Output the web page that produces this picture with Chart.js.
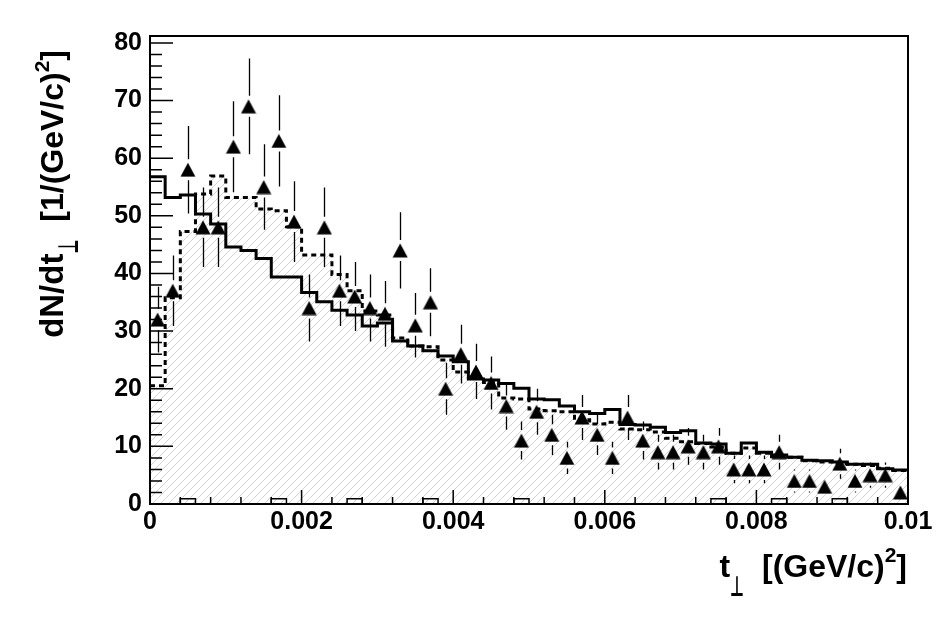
<!DOCTYPE html>
<html>
<head>
<meta charset="utf-8">
<script src="https://cdn.jsdelivr.net/npm/chart.js@4.4.0/dist/chart.umd.min.js"></script>
<style>
  html, body { margin: 0; padding: 0; background: #fff; }
  #wrap { width: 950px; height: 622px; }
</style>
</head>
<body>
<div id="wrap"><canvas id="tperp" width="950" height="622"></canvas></div>
<script>
// bin edges in t_perp [(GeV/c)^2], 50 bins
const tEdges = [
  0, 0.0002, 0.0004, 0.0006, 0.0008, 0.001, 0.0012, 0.0014, 0.0016, 0.0018,
  0.002, 0.0022, 0.0024, 0.0026, 0.0028, 0.003, 0.0032, 0.0034, 0.0036, 0.0038,
  0.004, 0.0042, 0.0044, 0.0046, 0.0048, 0.005, 0.0052, 0.0054, 0.0056, 0.0058,
  0.006, 0.0062, 0.0064, 0.0066, 0.0068, 0.007, 0.0072, 0.0074, 0.0076, 0.0078,
  0.008, 0.0082, 0.0084, 0.0086, 0.0088, 0.009, 0.0092, 0.0094, 0.0096, 0.0098,
  0.01
];

// measured points (triangles) and their errors
const dataCounts = [
  32, 37, 58, 48, 48, 62, 69, 55, 63, 49,
  34, 48, 37, 36, 34, 33, 44, 31, 35, 20,
  26, 23, 21, 17, 11, 16, 12, 8, 15, 12,
  8, 15, 11, 9, 9, 10, 9, 10, 6, 6,
  6, 9, 4, 4, 3, 7, 4, 5, 5, 2
];
const dataErrors = [
  5.7, 6.1, 7.6, 6.9, 6.9, 7.9, 8.3, 7.4, 7.9, 7.0,
  5.8, 6.9, 6.1, 6.0, 5.8, 5.7, 6.6, 5.6, 5.9, 4.5,
  5.1, 4.8, 4.6, 4.1, 3.3, 4.0, 3.5, 2.8, 3.9, 3.5,
  2.8, 3.9, 3.3, 3.0, 3.0, 3.2, 3.0, 3.2, 2.4, 2.4,
  2.4, 3.0, 2.0, 2.0, 1.7, 2.6, 2.0, 2.2, 2.2, 1.4
];

// solid histogram
const solidHist = [
  56.8, 53.2, 53.6, 50.3, 48.6, 44.6, 44.0, 42.6, 39.4, 39.4,
  36.7, 35.1, 33.6, 32.8, 30.9, 31.4, 28.3, 27.4, 26.6, 25.7,
  24.7, 21.7, 21.5, 20.9, 20.1, 18.2, 18.1, 17.0, 16.0, 15.7,
  16.4, 13.8, 13.7, 13.3, 12.4, 12.7, 10.6, 10.4, 8.8, 10.6,
  9.0, 8.5, 8.1, 7.6, 7.5, 7.3, 6.9, 6.9, 6.1, 5.9
];

// dashed histogram (hatched)
const dashedHist = [
  20.5, 35.8, 47.3, 53.8, 56.9, 53.2, 53.2, 51.2, 50.9, 48.1,
  43.2, 43.2, 39.8, 37.0, 33.5, 32.8, 28.8, 27.4, 27.3, 25.0,
  22.9, 22.0, 21.1, 18.4, 18.2, 16.5, 16.2, 16.0, 14.6, 13.9,
  14.2, 13.0, 12.9, 12.5, 11.4, 10.8, 10.5, 9.9, 8.8, 9.7,
  8.8, 8.2, 8.1, 7.5, 7.3, 7.0, 6.9, 6.7, 6.2, 5.8
];

// small box histogram along the bottom
const boxHist = [
  0, 0, 0.9, 0, 0, 0, 0, 0, 0.9, 0,
  0, 0, 0, 0.9, 0, 0, 0, 0, 0.9, 0,
  0, 0, 0, 0, 0.9, 0, 0, 0, 0, 0,
  0, 0, 0, 0, 0, 0, 0, 0.9, 0, 0,
  0, 0.9, 0, 0, 0, 0.9, 0, 0, 0, 0
];

const xMajorTicks = [0, 0.002, 0.004, 0.006, 0.008, 0.01];
const xTickLabels = ['0', '0.002', '0.004', '0.006', '0.008', '0.01'];
const yMajorTicks = [0, 10, 20, 30, 40, 50, 60, 70, 80];
const yTickLabels = ['0', '10', '20', '30', '40', '50', '60', '70', '80'];

const FONT = "'Liberation Sans', Arial, Helvetica, sans-serif";

function histPoints(vals) {
  const pts = vals.map((v, i) => ({ x: tEdges[i], y: v }));
  pts.push({ x: tEdges[vals.length], y: vals[vals.length - 1] });
  return pts;
}

function labelFor(v, majors, labels) {
  for (let j = 0; j < majors.length; j++) {
    if (Math.abs(v - majors[j]) < 1e-9) return labels[j];
  }
  return '';
}

function isMajor(v, majors) {
  return majors.some(m => Math.abs(v - m) < 1e-9);
}

// diagonal hatch for the dashed histogram
const hatchTile = document.createElement('canvas');
hatchTile.width = 8;
hatchTile.height = 8;
(function () {
  const g = hatchTile.getContext('2d');
  g.strokeStyle = '#d2d2d2';
  g.lineWidth = 1;
  g.beginPath();
  g.moveTo(0, 8); g.lineTo(8, 0);
  g.moveTo(-1, 1); g.lineTo(1, -1);
  g.moveTo(7, 9); g.lineTo(9, 7);
  g.stroke();
})();

// filled triangle marker
const triMarker = document.createElement('canvas');
triMarker.width = 16;
triMarker.height = 15;
(function () {
  const g = triMarker.getContext('2d');
  g.fillStyle = '#000';
  g.beginPath();
  g.moveTo(8, 0.5);
  g.lineTo(15.5, 14.5);
  g.lineTo(0.5, 14.5);
  g.closePath();
  g.fill();
})();

function drawRich(ctx, parts, x, y, rot) {
  ctx.save();
  ctx.translate(x, y);
  if (rot) ctx.rotate(rot);
  ctx.textBaseline = 'alphabetic';
  ctx.fillStyle = '#000';
  let w = 0;
  parts.forEach(p => {
    ctx.font = 'bold ' + p.size + 'px ' + (p.family || FONT);
    p.w = ctx.measureText(p.text).width * (p.sx || 1);
    w += p.w;
  });
  let cx = -w;
  parts.forEach(p => {
    ctx.font = 'bold ' + p.size + 'px ' + (p.family || FONT);
    ctx.save();
    ctx.translate(cx, p.dy || 0);
    ctx.scale(p.sx || 1, 1);
    ctx.fillText(p.text, 0, 0);
    ctx.restore();
    cx += p.w;
  });
  ctx.restore();
}

const perp = { text: '\u22A5', size: 28, family: "'DejaVu Sans', sans-serif", sx: 0.55 };

const rootFrame = {
  id: 'rootFrame',
  afterDatasetsDraw(chart) {
    const { ctx, chartArea: a, scales: { x, y } } = chart;
    ctx.save();

    // error bars with a gap around the marker
    ctx.strokeStyle = '#000';
    ctx.lineWidth = 1.3;
    const gap = 10.5;
    dataCounts.forEach((v, i) => {
      const px = Math.round(x.getPixelForValue((tEdges[i] + tEdges[i + 1]) / 2)) + 0.5;
      const pc = y.getPixelForValue(v);
      const pHi = y.getPixelForValue(v + dataErrors[i]);
      const pLo = y.getPixelForValue(v - dataErrors[i]);
      ctx.beginPath();
      if (pc - gap > pHi) { ctx.moveTo(px, pHi); ctx.lineTo(px, pc - gap); }
      if (pc + gap < pLo) { ctx.moveTo(px, pc + gap); ctx.lineTo(px, pLo); }
      ctx.stroke();
    });

    // inward tick marks
    ctx.lineWidth = 1.5;
    ctx.beginPath();
    x.ticks.forEach(t => {
      const px = x.getPixelForValue(t.value);
      const len = isMajor(t.value, xMajorTicks) ? 14 : 7;
      ctx.moveTo(px, a.bottom);
      ctx.lineTo(px, a.bottom - len);
    });
    y.ticks.forEach(t => {
      const py = y.getPixelForValue(t.value);
      const len = isMajor(t.value, yMajorTicks) ? 23 : 12;
      ctx.moveTo(a.left, py);
      ctx.lineTo(a.left + len, py);
    });
    ctx.stroke();

    // frame
    ctx.lineWidth = 2;
    ctx.strokeRect(a.left, a.top, a.right - a.left, a.bottom - a.top);
    ctx.restore();
  },
  afterDraw(chart) {
    const ctx = chart.ctx;
    drawRich(ctx, [
      { text: 't', size: 32 },
      Object.assign({}, perp, { dy: 19 }),
      { text: '  [(GeV/c)', size: 32 },
      { text: '2', size: 21, dy: -15 },
      { text: ']', size: 32 }
    ], 907, 577, 0);
    drawRich(ctx, [
      { text: 'dN/dt', size: 33 },
      Object.assign({}, perp, { dy: 15 }),
      { text: '  [1/(GeV/c)', size: 32 },
      { text: '2', size: 21, dy: -14 },
      { text: ']', size: 32 }
    ], 63, 50, -Math.PI / 2);
  }
};

const canvas = document.getElementById('tperp');
const ctx = canvas.getContext('2d');
const hatch = ctx.createPattern(hatchTile, 'repeat');

const tickFont = { family: FONT, size: 25, weight: 'bold' };

new Chart(ctx, {
  type: 'line',
  data: {
    datasets: [
      {
        label: 'data',
        data: dataCounts.map((v, i) => ({ x: (tEdges[i] + tEdges[i + 1]) / 2, y: v })),
        showLine: false,
        pointStyle: triMarker,
        pointRadius: 8,
        order: 0
      },
      {
        label: 'solid',
        data: histPoints(solidHist),
        stepped: 'before',
        borderColor: '#000',
        borderWidth: 3,
        pointRadius: 0,
        fill: false,
        order: 1
      },
      {
        label: 'box',
        data: histPoints(boxHist),
        stepped: 'before',
        borderColor: '#000',
        borderWidth: 1.5,
        pointRadius: 0,
        fill: false,
        order: 1.5
      },
      {
        label: 'dashed',
        data: histPoints(dashedHist),
        stepped: 'before',
        borderColor: '#000',
        borderWidth: 3,
        borderDash: [5, 4],
        pointRadius: 0,
        fill: 'origin',
        backgroundColor: hatch,
        order: 2
      }
    ]
  },
  options: {
    responsive: false,
    animation: false,
    layout: { padding: { left: 0, right: 42, top: 36, bottom: 0 } },
    plugins: {
      legend: { display: false },
      tooltip: { enabled: false }
    },
    scales: {
      x: {
        type: 'linear',
        min: 0,
        max: 0.01,
        grid: { display: false, drawTicks: false },
        border: { display: false },
        ticks: {
          stepSize: 0.0004,
          maxTicksLimit: 1000,
          includeBounds: false,
          autoSkip: false,
          maxRotation: 0,
          padding: 3,
          color: '#000',
          font: tickFont,
          callback: v => labelFor(v, xMajorTicks, xTickLabels)
        },
        afterFit: s => { s.height = 118; }
      },
      y: {
        min: 0,
        max: 81.2,
        grid: { display: false, drawTicks: false },
        border: { display: false },
        ticks: {
          stepSize: 2,
          maxTicksLimit: 1000,
          includeBounds: false,
          autoSkip: false,
          padding: 8,
          color: '#000',
          font: tickFont,
          callback: v => labelFor(v, yMajorTicks, yTickLabels)
        },
        afterFit: s => { s.width = 150; }
      }
    }
  },
  plugins: [rootFrame]
});
</script>
</body>
</html>
